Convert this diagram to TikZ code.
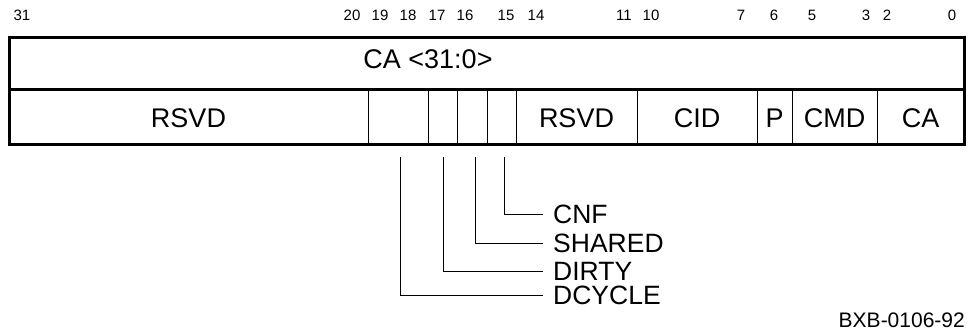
\documentclass[tikz,border=0pt]{standalone}
\usepackage{fontspec}
\setmainfont{Liberation Sans}
\begin{document}
\begin{tikzpicture}[x=1pt,y=-1pt,
  field/.style={draw, line width=1pt, inner sep=0pt, minimum height=55pt, text height=22.3pt, text depth=0pt, font=\fontsize{27}{32}\selectfont},
  bigtext/.style={inner sep=0pt, text height=19.3pt, text depth=0pt, font=\fontsize{27}{32}\selectfont},
  bitnum/.style={inner sep=0pt, text height=10.7pt, text depth=0pt, font=\fontsize{15}{18}\selectfont},
  leadlabel/.style={anchor=west, inner sep=0pt, text height=19pt, text depth=0pt, font=\fontsize{26.5}{31}\selectfont},
  leader/.style={line width=1pt},
  frame/.style={line width=3pt}]
\useasboundingbox (0,0) rectangle (968,333);
% lower row fields
\node[field, minimum width=359pt] (rsvdA) at (188.5,116.5) {RSVD};
\node[field, minimum width=60pt] (f1918) at (398,116.5) {};
\node[field, minimum width=29pt] (f17) at (442.5,116.5) {};
\node[field, minimum width=30pt] (f16) at (472,116.5) {};
\node[field, minimum width=29pt] (f15) at (501.5,116.5) {};
\node[field, minimum width=121pt] (rsvdB) at (576.5,116.5) {RSVD};
\node[field, minimum width=120pt] (cid) at (697,116.5) {CID};
\node[field, minimum width=35pt] (p) at (774.5,116.5) {P};
\node[field, minimum width=85pt] (cmd) at (834.5,116.5) {CMD};
\node[field, minimum width=87pt] (ca) at (920.5,116.5) {CA};
% frame
\draw[frame] (9,37) rectangle (964,144);
\draw[frame] (9,89) -- (964,89);
\node[bigtext] (catext) at (428,59) {CA <31:0>};
% bit numbers
\node[bitnum] (b31) at (22,15) {31};
\node[bitnum] (b20) at (352,15) {20};
\node[bitnum] (b19) at (380,15) {19};
\node[bitnum] (b18) at (408,15) {18};
\node[bitnum] (b17) at (437,15) {17};
\node[bitnum] (b16) at (465,15) {16};
\node[bitnum] (b15) at (506,15) {15};
\node[bitnum] (b14) at (536,15) {14};
\node[bitnum] (b11) at (624,15) {11};
\node[bitnum] (b10) at (651,15) {10};
\node[bitnum] (b7) at (741,15) {7};
\node[bitnum] (b6) at (774,15) {6};
\node[bitnum] (b5) at (812,15) {5};
\node[bitnum] (b3) at (866,15) {3};
\node[bitnum] (b2) at (887,15) {2};
\node[bitnum] (b0) at (952,15) {0};
% leader labels
\node[leadlabel] (cnf) at (553,213.5) {CNF};
\node[leadlabel] (shared) at (553,242.5) {SHARED};
\node[leadlabel] (dirty) at (553,270.5) {DIRTY};
\node[leadlabel] (dcycle) at (553,294.5) {DCYCLE};
% leaders
\draw[leader] ([xshift=2.5pt,yshift=-12.5pt]f15.south) |- ([xshift=-10pt,yshift=-0.5pt]cnf.west);
\draw[leader] ([xshift=3pt,yshift=-12.5pt]f16.south) |- ([xshift=-10pt,yshift=-0.5pt]shared.west);
\draw[leader] ([xshift=0.5pt,yshift=-12.5pt]f17.south) |- ([xshift=-10pt,yshift=-0.5pt]dirty.west);
\draw[leader] ([xshift=2pt,yshift=-12.5pt]f1918.south) |- ([xshift=-10pt,yshift=-0.5pt]dcycle.west);
% figure code
\node[anchor=east, inner sep=0pt, text height=15pt, text depth=0pt, font=\fontsize{21}{25}\selectfont] (code) at (965,319.5) {BXB-0106-92};
\end{tikzpicture}
\end{document}
